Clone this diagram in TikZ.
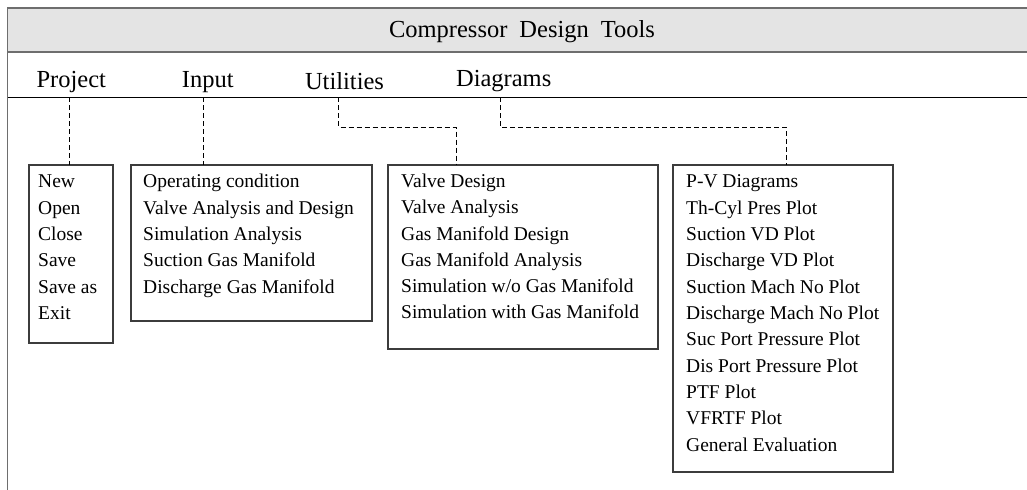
\documentclass[tikz,border=0pt]{standalone}
\usepackage{fontspec}
\setmainfont{Liberation Serif}
\definecolor{barfill}{HTML}{E4E4E4}
\definecolor{frameline}{HTML}{6E6E6E}
\definecolor{boxline}{HTML}{3C3C3C}
\tikzset{
  menulabel/.style={font=\fontsize{24.5bp}{28bp}\selectfont, inner sep=0pt, anchor=base},
  menubox/.style={draw=boxline, line width=1.1bp, anchor=north west, inner sep=0pt, outer sep=0pt},
  itemlist/.style={font=\fontsize{19.5bp}{26.3bp}\selectfont, inner sep=0pt, anchor=base west},
  dashline/.style={line width=0.9bp, dash pattern=on 5bp off 3bp}
}
\newcommand{\itemcol}[1]{\parbox[t]{320bp}{\raggedright #1}}
\begin{document}
\begin{tikzpicture}[x=1bp,y=-1bp]
\useasboundingbox (0,0) rectangle (1027,490);

% title bar and window frame
\fill[barfill] (7.5,8) rectangle (1027,52);
\draw[frameline, line width=1.5bp] (1027,8) -- (7.5,8) -- (7.5,490);
\draw[frameline, line width=1.5bp] (7.5,52) -- (1027,52);
\draw[black, line width=1.3bp] (7.5,97.3) -- (1027,97.3);
\node[menulabel] (title) at (522,37.3) {Compressor\hspace{12bp}Design\hspace{12bp}Tools};

% menu bar entries
\node[menulabel] (mproj) at (71.3,87.3) {Project};
\node[menulabel] (minput) at (207.7,87.3) {Input};
\node[menulabel] (mutil) at (344.5,89.3) {Utilities};
\node[menulabel] (mdiag) at (503.7,86.7) {Diagrams};

% drop-down boxes
\node[menubox, minimum width=84bp, minimum height=178bp] (bproj) at (29,165) {};
\node[menubox, minimum width=241bp, minimum height=156bp] (binput) at (131,165) {};
\node[menubox, minimum width=270bp, minimum height=184bp] (butil) at (388,165) {};
\node[menubox, minimum width=220bp, minimum height=307bp] (bdiag) at (673,165) {};

% drop-down entries
\node[itemlist] (lproj) at (38,188) {\itemcol{New\\Open\\Close\\Save\\Save as\\Exit}};
\node[itemlist] (linput) at (143,188) {\itemcol{Operating condition\\Valve Analysis and Design\\Simulation Analysis\\Suction Gas Manifold\\Discharge Gas Manifold}};
\node[itemlist] (lutil) at (401,187.5) {\itemcol{Valve Design\\Valve Analysis\\Gas Manifold Design\\Gas Manifold Analysis\\Simulation w/o Gas Manifold\\Simulation with Gas Manifold}};
\node[itemlist] (ldiag) at (686,188) {\itemcol{P-V Diagrams\\Th-Cyl Pres Plot\\Suction VD Plot\\Discharge VD Plot\\Suction Mach No Plot\\Discharge Mach No Plot\\Suc Port Pressure Plot\\Dis Port Pressure Plot\\PTF Plot\\VFRTF Plot\\General Evaluation}};

% dashed links from the menu bar to each drop-down
\coordinate (cproj) at (69.3,97.3);
\coordinate (cinput) at (203.3,97.3);
\coordinate (cutil) at (338.3,97.3);
\coordinate (cdiag) at (500,97.3);
\coordinate (kutil) at (456,127);
\coordinate (kdiag) at (786,127);

\draw[dashline] (cproj) -- (cproj |- bproj.north);
\draw[dashline] (cinput) -- (cinput |- binput.north);
\draw[dashline] (cutil) |- (kutil) -- (kutil |- butil.north);
\draw[dashline] (cdiag) |- (kdiag) -- (kdiag |- bdiag.north);
\end{tikzpicture}
\end{document}
